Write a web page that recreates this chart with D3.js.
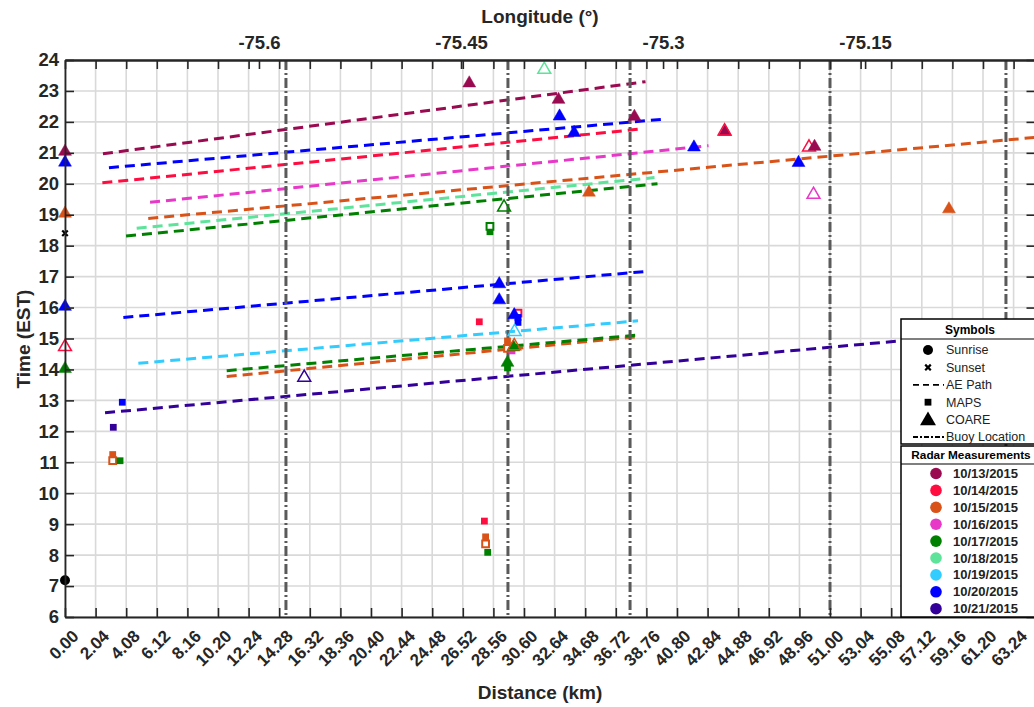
<!DOCTYPE html>
<html>
<head>
<meta charset="utf-8">
<script src="https://cdn.jsdelivr.net/npm/d3@7"></script>
<style>
body{margin:0;background:#fff;}
svg{display:block;font-family:"Liberation Sans",Arial,sans-serif;}
</style>
</head>
<body>
<svg id="chart" width="1034" height="707"></svg>
<script>
// radar dates and their colours
const dates=['10/13/2015','10/14/2015','10/15/2015','10/16/2015','10/17/2015','10/18/2015','10/19/2015','10/20/2015','10/21/2015'];
const date_colors=['#990a50','#ff0d40','#d95319','#e838c8','#008000','#5de39a','#33ccff','#0000ff','#330099'];

const dist_ticks=[0,2.04,4.08,6.12,8.16,10.20,12.24,14.28,16.32,18.36,20.40,22.44,24.48,26.52,28.56,30.60,32.64,34.68,36.72,38.76,40.80,42.84,44.88,46.92,48.96,51.00,53.04,55.08,57.12,59.16,61.20,63.24];
const lon_ticks=[-75.6,-75.45,-75.3,-75.15];
const hour_ticks=[6,7,8,9,10,11,12,13,14,15,16,17,18,19,20,21,22,23,24];

// buoy positions along the path (km)
const buoy_km=[14.73,29.53,37.67,51.0,62.73];

// AE path: start/end distance (km) and time (h EST)
const ae_paths=[
    {date:'10/13/2015',km:[2.53,38.7],t:[20.97,23.30]},
    {date:'10/20/2015',km:[2.93,40.0],t:[20.52,22.09]},
    {date:'10/14/2015',km:[2.49,38.2],t:[20.03,21.76]},
    {date:'10/16/2015',km:[5.67,42.9],t:[19.40,21.23]},
    {date:'10/15/2015',km:[5.55,64.7],t:[18.88,21.50]},
    {date:'10/18/2015',km:[4.78,39.3],t:[18.56,20.20]},
    {date:'10/17/2015',km:[4.07,39.5],t:[18.31,20.00]},
    {date:'10/20/2015',km:[3.89,38.56],t:[15.68,17.16]},
    {date:'10/19/2015',km:[4.89,38.2],t:[14.20,15.57]},
    {date:'10/15/2015',km:[10.78,38.2],t:[13.77,15.06]},
    {date:'10/17/2015',km:[10.78,38.2],t:[13.96,15.11]},
    {date:'10/21/2015',km:[2.67,62.0],t:[12.60,15.20]}
];

// MAPS measurements
const maps_pts=[
    {date:'10/20/2015',km:3.82,t:12.94,open:false},
    {date:'10/21/2015',km:3.22,t:12.13,open:false},
    {date:'10/15/2015',km:3.18,t:11.25,open:false},
    {date:'10/15/2015',km:3.18,t:11.05,open:true},
    {date:'10/17/2015',km:3.67,t:11.05,open:false},
    {date:'10/14/2015',km:27.96,t:9.10,open:false},
    {date:'10/15/2015',km:28.04,t:8.59,open:false},
    {date:'10/15/2015',km:28.04,t:8.36,open:true},
    {date:'10/17/2015',km:28.18,t:8.09,open:false},
    {date:'10/14/2015',km:27.62,t:15.54,open:false},
    {date:'10/17/2015',km:28.33,t:18.45,open:false},
    {date:'10/17/2015',km:28.33,t:18.62,open:true},
    {date:'10/15/2015',km:29.5,t:14.92,open:false},
    {date:'10/15/2015',km:29.5,t:14.68,open:true},
    {date:'10/16/2015',km:29.8,t:14.60,open:false},
    {date:'10/17/2015',km:29.5,t:14.05,open:false},
    {date:'10/14/2015',km:30.2,t:15.82,open:true},
    {date:'10/20/2015',km:30.2,t:15.68,open:false},
    {date:'10/20/2015',km:30.2,t:15.52,open:false}
];

// COARE measurements
const coare_pts=[
    {date:'10/13/2015',km:0,t:21.04,open:false},
    {date:'10/20/2015',km:0,t:20.69,open:false},
    {date:'10/15/2015',km:0,t:19.04,open:false},
    {date:'10/20/2015',km:0,t:16.03,open:false},
    {date:'10/14/2015',km:0,t:14.73,open:true},
    {date:'10/17/2015',km:0,t:14.02,open:false},
    {date:'10/20/2015',km:28.95,t:16.76,open:false},
    {date:'10/20/2015',km:28.95,t:16.24,open:false},
    {date:'10/20/2015',km:29.95,t:15.76,open:false},
    {date:'10/19/2015',km:29.97,t:15.22,open:true},
    {date:'10/17/2015',km:29.9,t:14.72,open:false},
    {date:'10/15/2015',km:29.95,t:14.76,open:true},
    {date:'10/17/2015',km:29.5,t:14.22,open:false},
    {date:'10/21/2015',km:15.95,t:13.74,open:true},
    {date:'10/17/2015',km:29.27,t:19.24,open:true},
    {date:'10/18/2015',km:31.95,t:23.69,open:true},
    {date:'10/16/2015',km:49.9,t:19.65,open:true},
    {date:'10/14/2015',km:49.6,t:21.18,open:true},
    {date:'10/13/2015',km:49.97,t:21.2,open:false},
    {date:'10/13/2015',km:26.95,t:23.25,open:false},
    {date:'10/13/2015',km:32.9,t:22.72,open:false},
    {date:'10/20/2015',km:32.97,t:22.18,open:false},
    {date:'10/13/2015',km:37.96,t:22.17,open:false},
    {date:'10/20/2015',km:33.94,t:21.65,open:false},
    {date:'10/20/2015',km:41.93,t:21.18,open:false},
    {date:'10/13/2015',km:44.0,t:21.68,open:false},
    {date:'10/14/2015',km:43.97,t:21.7,open:true},
    {date:'10/20/2015',km:48.9,t:20.68,open:false},
    {date:'10/15/2015',km:34.93,t:19.72,open:false},
    {date:'10/15/2015',km:58.93,t:19.18,open:false}
];

const sunrise_pts=[{km:0,t:7.19}];
const sunset_pts=[{km:0,t:18.4}];

const legend_symbols=['Sunrise','Sunset','AE Path','MAPS','COARE','Buoy Location'];

const plot={left:65,right:1035.5,top:60,bot:617};
const txt='#262626';

const color=d3.scaleOrdinal(dates,date_colors);
const x=d3.scaleLinear([0,64.7],[plot.left,plot.right]);
const lon=d3.scaleLinear([-75.744,-75.0235],[plot.left,plot.right]);
const y=d3.scaleLinear([6,24],[plot.bot,plot.top]);

const svg=d3.select('#chart');

// grid
const grid=svg.append('g').attr('class','grid');
grid.selectAll('line.v').data(dist_ticks).join('line').attr('class','v')
    .attr('x1',d=>x(d)).attr('x2',d=>x(d)).attr('y1',plot.top).attr('y2',plot.bot);
grid.selectAll('line.h').data(hour_ticks).join('line').attr('class','h')
    .attr('x1',plot.left).attr('x2',plot.right).attr('y1',d=>y(d)).attr('y2',d=>y(d));
grid.selectAll('line').attr('stroke','#d9d9d9').attr('stroke-width',1.6);

// AE paths
const line=d3.line().x(d=>x(d[0])).y(d=>y(d[1]));
svg.append('g').selectAll('path').data(ae_paths).join('path')
    .attr('d',d=>line([[d.km[0],d.t[0]],[d.km[1],d.t[1]]]))
    .attr('fill','none').attr('stroke',d=>color(d.date))
    .attr('stroke-width',3).attr('stroke-dasharray','10,6');

// buoy locations
svg.append('g').selectAll('line').data(buoy_km).join('line')
    .attr('x1',d=>x(d)).attr('x2',d=>x(d)).attr('y1',plot.top).attr('y2',plot.bot)
    .attr('stroke','#5a5a5a').attr('stroke-width',3).attr('stroke-dasharray','10,3,2,3');

// markers
const tri=d3.symbol(d3.symbolTriangle,72);
const sq=d3.symbol(d3.symbolSquare,46);
svg.append('g').selectAll('path').data(maps_pts).join('path')
    .attr('d',sq).attr('transform',d=>`translate(${x(d.km)},${y(d.t)})`)
    .attr('fill',d=>d.open?'#fff':color(d.date))
    .attr('stroke',d=>color(d.date)).attr('stroke-width',d=>d.open?2:0);
svg.append('g').selectAll('path').data(coare_pts).join('path')
    .attr('d',tri).attr('transform',d=>`translate(${x(d.km)},${y(d.t)})`)
    .attr('fill',d=>d.open?'none':color(d.date))
    .attr('stroke',d=>color(d.date)).attr('stroke-width',d=>d.open?1.5:0.5);
svg.append('g').selectAll('circle').data(sunrise_pts).join('circle')
    .attr('cx',d=>x(d.km)).attr('cy',d=>y(d.t)).attr('r',5).attr('fill','#000');
svg.append('g').selectAll('path').data(sunset_pts).join('path')
    .attr('d',d3.symbol(d3.symbolX,22)).attr('transform',d=>`translate(${x(d.km)},${y(d.t)})`)
    .attr('stroke','#000').attr('stroke-width',2.2);

// axes
const ax_bot=svg.append('g').attr('transform',`translate(0,${plot.bot})`)
    .call(d3.axisBottom(x).tickValues(dist_ticks).tickSizeInner(-9).tickSizeOuter(0).tickFormat(d3.format('.2f')));
ax_bot.selectAll('text')
    .attr('transform','translate(10,16) rotate(-45)')
    .attr('text-anchor','end').attr('dy','0.35em').attr('y',0).attr('x',0)
    .style('font-size','17px').style('font-weight','bold').attr('fill',txt);

const ax_top=svg.append('g').attr('transform',`translate(0,${plot.top})`)
    .call(d3.axisTop(x).tickValues(dist_ticks).tickSizeInner(-9).tickSizeOuter(0).tickFormat(''));
const ax_lon=svg.append('g').attr('transform',`translate(0,${plot.top})`)
    .call(d3.axisTop(lon).tickValues(lon_ticks).tickSizeInner(-9).tickSizeOuter(0).tickPadding(11).tickFormat(d=>d));
ax_lon.selectAll('text').style('font-size','18.5px').style('font-weight','bold').attr('fill',txt);

const ax_left=svg.append('g').attr('transform',`translate(${plot.left},0)`)
    .call(d3.axisLeft(y).tickValues(hour_ticks).tickSizeInner(-9).tickSizeOuter(0).tickPadding(6));
ax_left.selectAll('text').style('font-size','18.5px').style('font-weight','bold').attr('fill',txt);
const ax_right=svg.append('g').attr('transform',`translate(${plot.right},0)`)
    .call(d3.axisRight(y).tickValues(hour_ticks).tickSizeInner(-9).tickSizeOuter(0).tickFormat(''));

[ax_bot,ax_top,ax_lon,ax_left,ax_right].forEach(a=>{
    a.selectAll('.domain').attr('stroke',txt).attr('stroke-width',1.8);
    a.selectAll('.tick line').attr('stroke',txt).attr('stroke-width',1.6);
});

// axis titles
svg.append('text').attr('x',540).attr('y',23).attr('text-anchor','middle')
    .style('font-size','19px').style('font-weight','bold').attr('fill',txt).text('Longitude (°)');
svg.append('text').attr('x',540).attr('y',699).attr('text-anchor','middle')
    .style('font-size','19px').style('font-weight','bold').attr('fill',txt).text('Distance (km)');
svg.append('text').attr('transform','translate(30,339) rotate(-90)').attr('text-anchor','middle')
    .style('font-size','19px').style('font-weight','bold').attr('fill',txt).text('Time (EST)');

// legend: symbols
const lg=svg.append('g').style('font-size','12.5px');
lg.append('rect').attr('x',901).attr('y',319).attr('width',140).attr('height',125)
    .attr('fill','#fff').attr('stroke','#000').attr('stroke-width',1.5);
lg.append('line').attr('x1',901).attr('x2',1041).attr('y1',339).attr('y2',339).attr('stroke','#000').attr('stroke-width',1.2);
lg.append('text').attr('x',970).attr('y',334).attr('text-anchor','middle').style('font-weight','bold').style('font-size','12px').text('Symbols');
const sym_row=lg.selectAll('g.row').data(legend_symbols).join('g')
    .attr('transform',(d,i)=>`translate(0,${350+i*17.4})`);
sym_row.append('text').attr('x',946).attr('dy','0.35em').attr('fill','#222').text(d=>d);
sym_row.filter(d=>d==='Sunrise').append('circle').attr('cx',928).attr('r',5).attr('fill','#000');
sym_row.filter(d=>d==='Sunset').append('path').attr('transform','translate(928,0)')
    .attr('d',d3.symbol(d3.symbolX,22)).attr('stroke','#000').attr('stroke-width',2.2);
sym_row.filter(d=>d==='AE Path').append('line').attr('x1',913).attr('x2',944)
    .attr('stroke','#000').attr('stroke-width',1.8).attr('stroke-dasharray','6,4');
sym_row.filter(d=>d==='MAPS').append('path').attr('transform','translate(928,0)')
    .attr('d',d3.symbol(d3.symbolSquare,46)).attr('fill','#000');
sym_row.filter(d=>d==='COARE').append('path').attr('transform','translate(928,1)')
    .attr('d',d3.symbol(d3.symbolTriangle,110)).attr('fill','#000');
sym_row.filter(d=>d==='Buoy Location').append('line').attr('x1',913).attr('x2',944)
    .attr('stroke','#000').attr('stroke-width',1.8).attr('stroke-dasharray','5,2,2,2');

// legend: radar dates
lg.append('rect').attr('x',901).attr('y',446).attr('width',140).attr('height',171)
    .attr('fill','#fff').attr('stroke','#000').attr('stroke-width',1.5);
lg.append('line').attr('x1',901).attr('x2',1041).attr('y1',464).attr('y2',464).attr('stroke','#000').attr('stroke-width',1.2);
lg.append('text').attr('x',971).attr('y',459).attr('text-anchor','middle').style('font-weight','bold').style('font-size','11.8px').text('Radar Measurements');
const date_row=lg.selectAll('g.drow').data(dates).join('g')
    .attr('transform',(d,i)=>`translate(0,${473.5+i*16.9})`);
date_row.append('circle').attr('cx',936).attr('r',5.8).attr('fill',d=>color(d));
date_row.append('text').attr('x',953).attr('dy','0.35em').style('font-weight','bold').style('font-size','13px').attr('fill','#222').text(d=>d);
</script>
</body>
</html>
